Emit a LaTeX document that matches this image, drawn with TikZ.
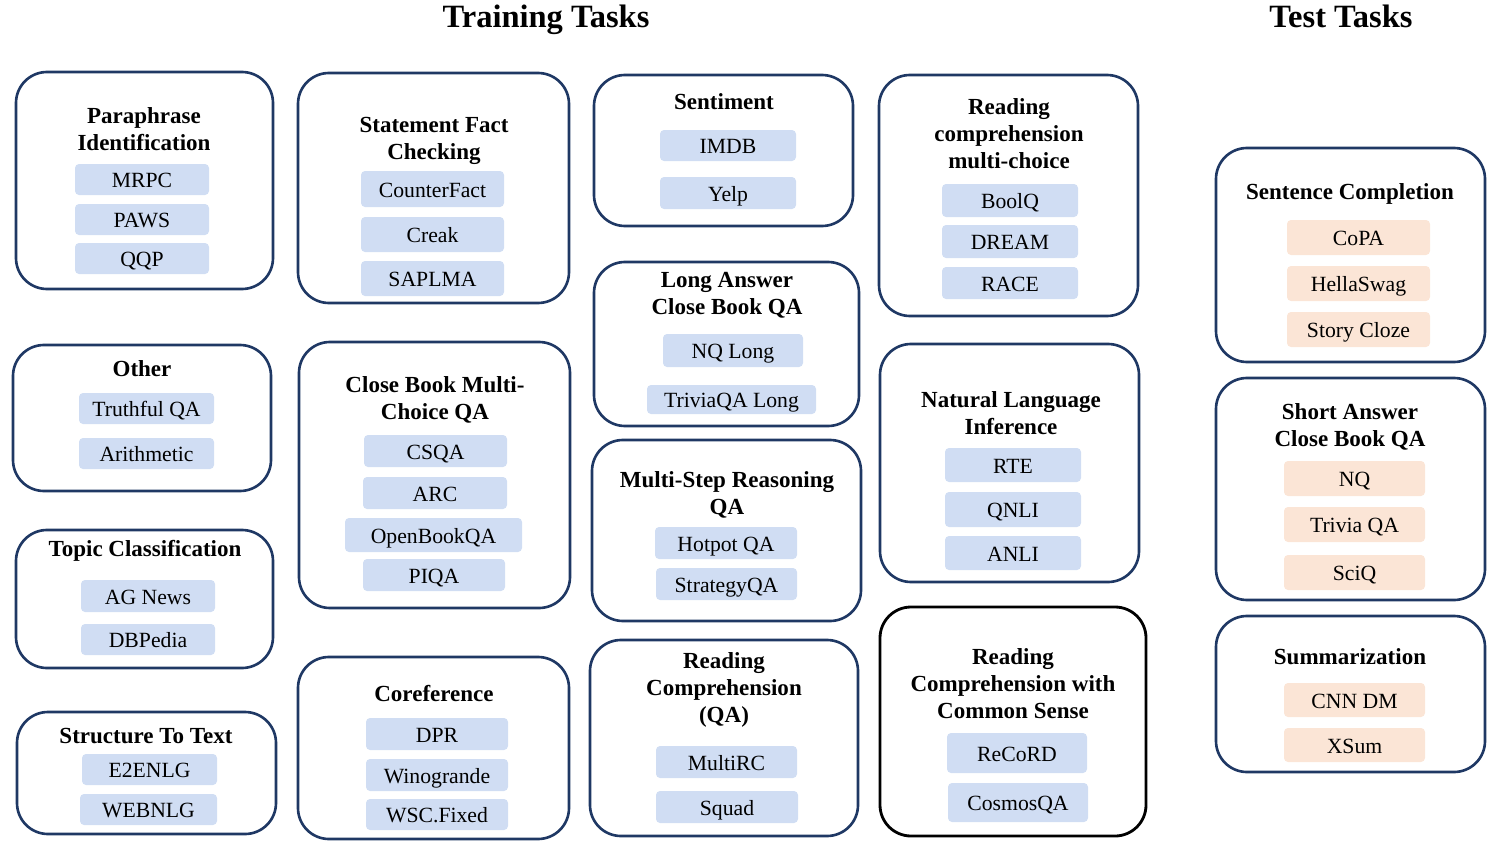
\documentclass[tikz,border=0pt]{standalone}
\usepackage{fontspec}
\setmainfont{Liberation Serif}
\usetikzlibrary{fit}
\definecolor{navy}{RGB}{31,56,100}
\definecolor{bluefill}{RGB}{208,221,243}
\definecolor{orfill}{RGB}{251,229,214}
\tikzset{
  outerbox/.style={draw=navy, line width=1.5pt, rounded corners=0.62cm, inner sep=0pt},
  blackbox/.style={draw=black, line width=1.6pt, rounded corners=0.62cm, inner sep=0pt},
  itembox/.style={fill=bluefill, rounded corners=0.08cm, inner sep=0pt, text height=0.95em, text depth=0pt, font=\fontsize{12.35}{14}\selectfont},
  testitem/.style={itembox, fill=orfill},
  ttl/.style={font=\fontsize{13.1}{15.3}\bfseries\selectfont, align=center, inner sep=0pt, anchor=base},
  hdr/.style={font=\fontsize{18.5}{22}\bfseries\selectfont, inner sep=0pt, anchor=base}
}
\newcommand{\obox}[6][outerbox]{\node[#1, fit={(#3,#4) (#5,#6)}] (#2) {};}
\newcommand{\itm}[7][itembox]{\node[#1, minimum width={(#5-#3)*0.02cm}, minimum height={(#6-#4)*0.02cm}] (#2) at ({(#3+#5)/2},{(#4+#6)/2}) {#7};}
\begin{document}
\begin{tikzpicture}[x=0.02cm,y=-0.02cm]
\useasboundingbox (0,0) rectangle (1495,845);
\node[hdr] (train) at (546,28) {Training Tasks};
\node[hdr] (test) at (1341,28) {Test Tasks};

% Paraphrase Identification
\obox{pi}{16}{72}{273}{289}
\node[ttl] (piT) at (144,150) {Paraphrase\\Identification};
\itm{mrpc}{75}{164}{209}{195}{MRPC}
\itm{paws}{75}{204}{209}{235}{PAWS}
\itm{qqp}{75}{243}{209}{274}{QQP}

% Other
\obox{oth}{13}{345}{271}{491}
\node[ttl] (othT) at (142,376) {Other};
\itm{tqa}{79}{393}{214}{424}{Truthful QA}
\itm{arith}{79}{438}{214}{469}{Arithmetic}

% Topic Classification
\obox{tc}{16}{530}{273}{668}
\node[ttl] (tcT) at (145,556) {Topic Classification};
\itm{agn}{81}{580}{215}{612}{AG News}
\itm{dbp}{81}{624}{215}{655}{DBPedia}

% Structure To Text
\obox{st}{17}{712}{276}{834}
\node[ttl] (stT) at (146,743) {Structure To Text};
\itm{e2e}{82}{754}{217}{785}{E2ENLG}
\itm{web}{80}{794}{217}{825}{WEBNLG}

% Statement Fact Checking
\obox{sfc}{298}{73}{569}{303}
\node[ttl] (sfcT) at (434,159) {Statement Fact\\Checking};
\itm{cf}{361}{171}{504}{207}{CounterFact}
\itm{creak}{361}{217}{504}{252}{Creak}
\itm{sap}{361}{261}{504}{296}{SAPLMA}

% Close Book Multi-Choice QA
\obox{cbmc}{299}{342}{570}{608}
\node[ttl] (cbmcT) at (435,419) {Close Book Multi-\\Choice QA};
\itm{csqa}{364}{435}{507}{467}{CSQA}
\itm{arc}{363}{477}{507}{509}{ARC}
\itm{obqa}{345}{518}{522}{552}{OpenBookQA}
\itm{piqa}{363}{559}{505}{591}{PIQA}

% Coreference
\obox{cor}{298}{657}{569}{839}
\node[ttl] (corT) at (434,701) {Coreference};
\itm{dpr}{366}{718}{508}{750}{DPR}
\itm{wino}{366}{759}{508}{791}{Winogrande}
\itm{wsc}{366}{799}{508}{830}{WSC.Fixed}

% Sentiment
\obox{sen}{594}{75}{853}{226}
\node[ttl] (senT) at (724,109) {Sentiment};
\itm{imdb}{660}{130}{796}{161}{IMDB}
\itm{yelp}{660}{177}{796}{209}{Yelp}

% Long Answer Close Book QA
\obox{la}{594}{262}{859}{426}
\node[ttl] (laT) at (727,314) {Long Answer\\Close Book QA};
\itm{nql}{663}{334}{803}{367}{NQ Long}
\itm{tql}{647}{385}{816}{414}{TriviaQA Long}

% Multi-Step Reasoning QA
\obox{ms}{592}{440}{861}{621}
\node[ttl] (msT) at (727,514) {Multi-Step Reasoning\\QA};
\itm{hot}{655}{527}{797}{559}{Hotpot QA}
\itm{strat}{656}{568}{797}{600}{StrategyQA}

% Reading Comprehension (QA)
\obox{rcqa}{590}{640}{858}{836}
\node[ttl] (rcqaT) at (724,722) {Reading\\Comprehension\\(QA)};
\itm{mrc}{656}{746}{797}{778}{MultiRC}
\itm{squad}{656}{791}{798}{823}{Squad}

% Reading comprehension multi-choice
\obox{rcmc}{879}{75}{1138}{316}
\node[ttl] (rcmcT) at (1009,168) {Reading\\comprehension\\multi-choice};
\itm{boolq}{942}{184}{1078}{217}{BoolQ}
\itm{dream}{942}{225}{1078}{258}{DREAM}
\itm{race}{942}{267}{1078}{299}{RACE}

% Natural Language Inference
\obox{nli}{880}{344}{1139}{582}
\node[ttl] (nliT) at (1011,434) {Natural Language\\Inference};
\itm{rte}{945}{448}{1081}{482}{RTE}
\itm{qnli}{945}{492}{1081}{527}{QNLI}
\itm{anli}{945}{536}{1081}{570}{ANLI}

% Reading Comprehension with Common Sense
\obox[blackbox]{rccs}{880}{607}{1146}{836}
\node[ttl] (rccsT) at (1013,718) {Reading\\Comprehension with\\Common Sense};
\itm{record}{947}{733}{1087}{773}{ReCoRD}
\itm{cosmos}{948}{783}{1088}{822}{CosmosQA}

% Sentence Completion
\obox{sc}{1216}{148}{1485}{362}
\node[ttl] (scT) at (1350,199) {Sentence Completion};
\itm[testitem]{copa}{1287}{220}{1430}{255}{CoPA}
\itm[testitem]{hella}{1287}{266}{1430}{301}{HellaSwag}
\itm[testitem]{story}{1287}{312}{1430}{347}{Story Cloze}

% Short Answer Close Book QA
\obox{sa}{1216}{378}{1485}{600}
\node[ttl] (saT) at (1350,446) {Short Answer\\Close Book QA};
\itm[testitem]{nq}{1284}{461}{1425}{496}{NQ}
\itm[testitem]{triv}{1284}{507}{1425}{542}{Trivia QA}
\itm[testitem]{sciq}{1284}{555}{1425}{590}{SciQ}

% Summarization
\obox{sum}{1216}{616}{1485}{772}
\node[ttl] (sumT) at (1350,664) {Summarization};
\itm[testitem]{cnn}{1284}{683}{1425}{717}{CNN DM}
\itm[testitem]{xsum}{1284}{728}{1425}{762}{XSum}
\end{tikzpicture}
\end{document}
